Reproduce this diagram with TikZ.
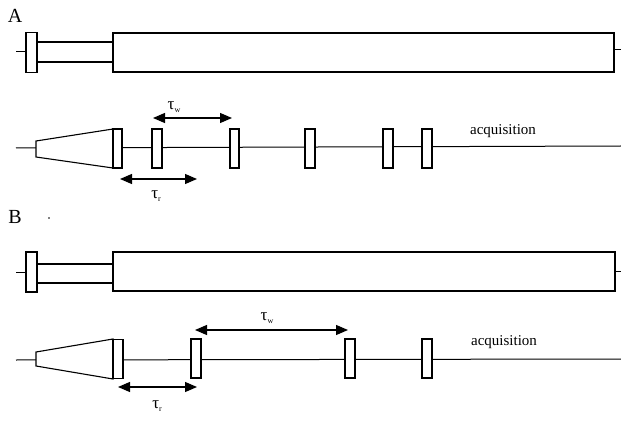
\documentclass[tikz,border=0pt]{standalone}
\usepackage{fontspec}
\setmainfont{Liberation Serif}
\usetikzlibrary{arrows.meta,calc}
\newcommand{\tausub}[1]{τ\raisebox{-3.5pt}{\fontsize{8}{8}\selectfont #1}}
\begin{document}
\begin{tikzpicture}[x=1pt,y=-1pt,line width=1pt,
  box/.style={draw,fill=white,inner sep=0pt,outer sep=0pt,line width=1.1pt},
  pulse/.style={box,minimum width=10pt,minimum height=39pt},
  endcap/.style={box,minimum width=11pt,minimum height=40pt},
  tubeend/.style={box,minimum height=39pt},
  span/.style={{Triangle[length=12pt,width=10pt]}-{Triangle[length=12pt,width=10pt]},line width=1.2pt},
  panel/.style={font=\fontsize{20}{20}\selectfont},
  acq/.style={font=\fontsize{15}{15}\selectfont},
  tau/.style={font=\fontsize{17}{17}\selectfont}]
\useasboundingbox (0,0) rectangle (621,422);

% ---------- Panel A ----------
\node[panel] (labA) at (15,16) {A};
% top row
\coordinate (lA) at (16,52);
\coordinate (rA) at (621,50);
\node[endcap] (sA) at (31.5,52.5) {};
\node[tubeend,minimum width=501pt] (bA) at (363.5,52.5) {};
\draw (lA) -- (lA -| sA.west);
\draw (bA.east |- rA) -- (rA);
\draw[line width=1.1pt] (sA.east |- 0,42) -- (bA.west |- 0,42);
\draw[line width=1.1pt] (sA.east |- 0,62) -- (bA.west |- 0,62);
% bottom row
\coordinate (slA) at (16,148);
\coordinate (elA) at (621,146);
\draw (slA) -- (elA);
\coordinate (t1A) at (36,141);
\coordinate (t2A) at (113,129);
\coordinate (t3A) at (113,168);
\coordinate (t4A) at (36,157);
\draw[fill=white,line width=1.1pt] (t1A) -- (t2A) -- (t3A) -- (t4A) -- cycle;
\node[pulse,minimum width=9pt] (gA) at (117.5,148.5) {};
\node[pulse] (A1) at (157,148.5) {};
\node[pulse,minimum width=9pt] (A2) at (234.5,148.5) {};
\node[pulse] (A3) at (310,148.5) {};
\node[pulse] (A4) at (388,148.5) {};
\node[pulse] (A5) at (427,148.5) {};
\node[acq] (acqA) at (503,131) {acquisition};
\coordinate (w1A) at ($(A1.north west)+(1,-11)$);
\coordinate (w2A) at ($(A2.north west)+(2,-11)$);
\draw[span] (w1A) -- (w2A);
\node[tau] (twA) at (174,107) {\tausub{w}};
\coordinate (r1A) at (120,179);
\coordinate (r2A) at (197,179);
\draw[span] (r1A) -- (r2A);
\node[tau] (trA) at (156,196) {\tausub{r}};

% ---------- Panel B ----------
\node[panel] (labB) at (15,217) {B};
\fill (49,218) circle (0.9pt);
% top row
\coordinate (lB) at (16,272);
\coordinate (rB) at (621,271);
\node[endcap] (sB) at (31.5,272) {};
\node[tubeend,minimum width=502pt] (bB) at (364,271.5) {};
\draw (lB) -- (lB -| sB.west);
\draw (bB.east |- rB) -- (rB);
\draw[line width=1.1pt] (sB.east |- 0,264) -- (bB.west |- 0,264);
\draw[line width=1.1pt] (sB.east |- 0,283) -- (bB.west |- 0,283);
% bottom row
\coordinate (slB) at (16,360);
\coordinate (elB) at (621,359);
\draw (slB) -- (elB);
\coordinate (t1B) at (36,352);
\coordinate (t2B) at (113,339);
\coordinate (t3B) at (113,379);
\coordinate (t4B) at (36,366);
\draw[fill=white,line width=1.1pt] (t1B) -- (t2B) -- (t3B) -- (t4B) -- cycle;
\node[pulse] (gB) at (118,359) {};
\node[pulse] (B1) at (196,358.5) {};
\node[pulse] (B2) at (350,358.5) {};
\node[pulse] (B3) at (427,358.5) {};
\node[acq] (acqB) at (504,342) {acquisition};
\coordinate (w1B) at (195,330);
\coordinate (w2B) at (348,330);
\draw[span] (w1B) -- (w2B);
\node[tau] (twB) at (267,318) {\tausub{w}};
\coordinate (r1B) at (118,387);
\coordinate (r2B) at (197,387);
\draw[span] (r1B) -- (r2B);
\node[tau] (trB) at (157,406) {\tausub{r}};
\end{tikzpicture}
\end{document}
